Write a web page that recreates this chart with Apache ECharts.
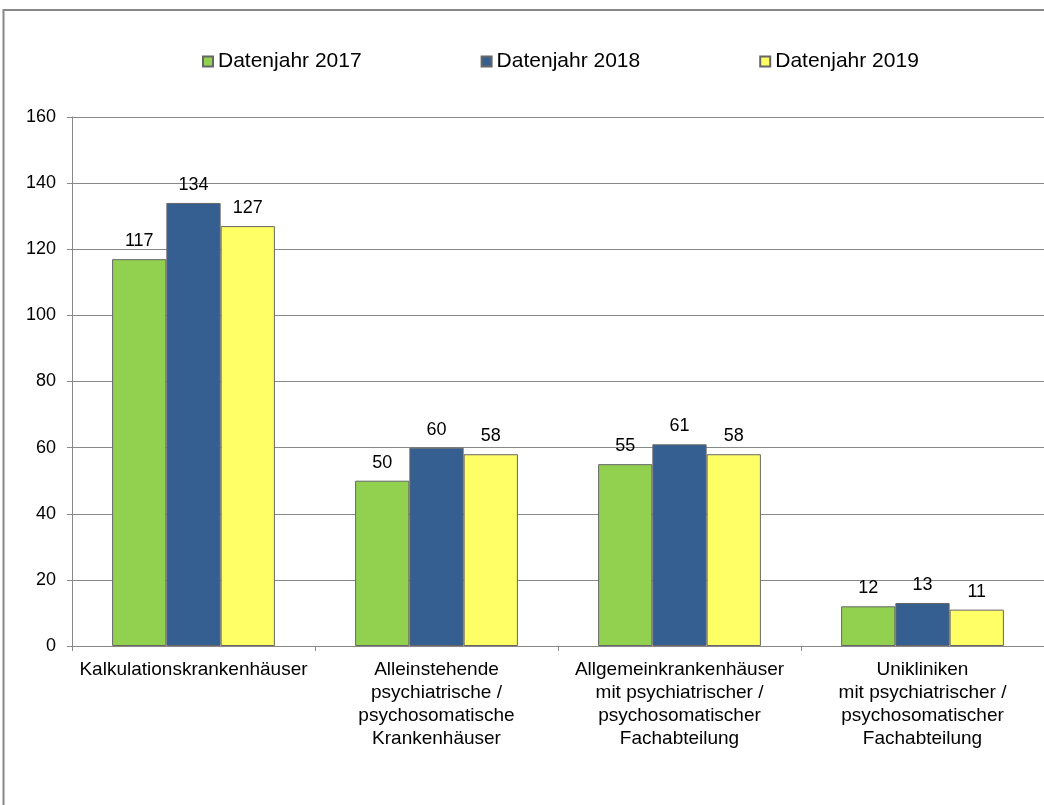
<!DOCTYPE html>
<html>
<head>
<meta charset="utf-8">
<title>Datenjahre 2017-2019</title>
<script src="https://cdn.jsdelivr.net/npm/echarts@6/dist/echarts.min.js"></script>
<style>
  html, body { margin: 0; padding: 0; background: #fff; }
  #main { width: 1044px; height: 805px; }
</style>
</head>
<body>
<div id="main"></div>
<script>
// Kategorien (x-Achse)
const categories = [
  "Kalkulationskrankenhäuser",
  "Alleinstehende\npsychiatrische /\npsychosomatische\nKrankenhäuser",
  "Allgemeinkrankenhäuser\nmit psychiatrischer /\npsychosomatischer\nFachabteilung",
  "Unikliniken\nmit psychiatrischer /\npsychosomatischer\nFachabteilung"
];
const seriesNames = ["Datenjahr 2017", "Datenjahr 2018", "Datenjahr 2019"];
const values2017 = [117, 50, 55, 12];
const values2018 = [134, 60, 61, 13];
const values2019 = [127, 58, 58, 11];
const colors = ["#92D050", "#365F91", "#FFFF66"];

const myChart = echarts.init(document.getElementById("main"));
const font = "'Liberation Sans', Arial, sans-serif";

function bar(name, data, color) {
  return {
    name: name,
    type: "bar",
    data: data,
    barGap: "0%",
    barCategoryGap: "33%",
    itemStyle: { color: color, borderColor: "#666", borderWidth: 1 },
    label: {
      show: true,
      position: "top",
      distance: 9,
      color: "#000",
      fontFamily: font,
      fontSize: 18
    }
  };
}

const options = {
  animation: false,
  textStyle: { fontFamily: font },
  // Rahmen um das Diagramm
  graphic: [{
    type: "rect",
    shape: { x: 3.5, y: 10, width: 1100, height: 900 },
    style: { fill: "none", stroke: "#888", lineWidth: 2 },
    silent: true
  }],
  legend: {
    left: 197,
    top: 46,
    itemWidth: 10,
    itemHeight: 10,
    itemGap: 119,
    icon: "rect",
    textStyle: { fontSize: 21, color: "#000", fontFamily: font },
    data: seriesNames
  },
  grid: { left: 72, right: -2, top: 117, bottom: 159 },
  xAxis: {
    type: "category",
    data: categories,
    axisLine: { lineStyle: { color: "#888", width: 1 } },
    axisTick: { show: true, length: 5, lineStyle: { color: "#888" } },
    axisLabel: {
      interval: 0,
      margin: 12,
      color: "#000",
      fontSize: 19,
      lineHeight: 23,
      fontFamily: font
    }
  },
  yAxis: {
    type: "value",
    min: 0,
    max: 160,
    interval: 20,
    axisLine: { show: true, lineStyle: { color: "#888", width: 1 } },
    axisTick: { show: true, length: 5, lineStyle: { color: "#888" } },
    axisLabel: { margin: 16, color: "#000", fontSize: 18, fontFamily: font },
    splitLine: { lineStyle: { color: "#888", width: 1 } }
  },
  series: [
    bar(seriesNames[0], values2017, colors[0]),
    bar(seriesNames[1], values2018, colors[1]),
    bar(seriesNames[2], values2019, colors[2])
  ]
};

myChart.setOption(options);
</script>
</body>
</html>
